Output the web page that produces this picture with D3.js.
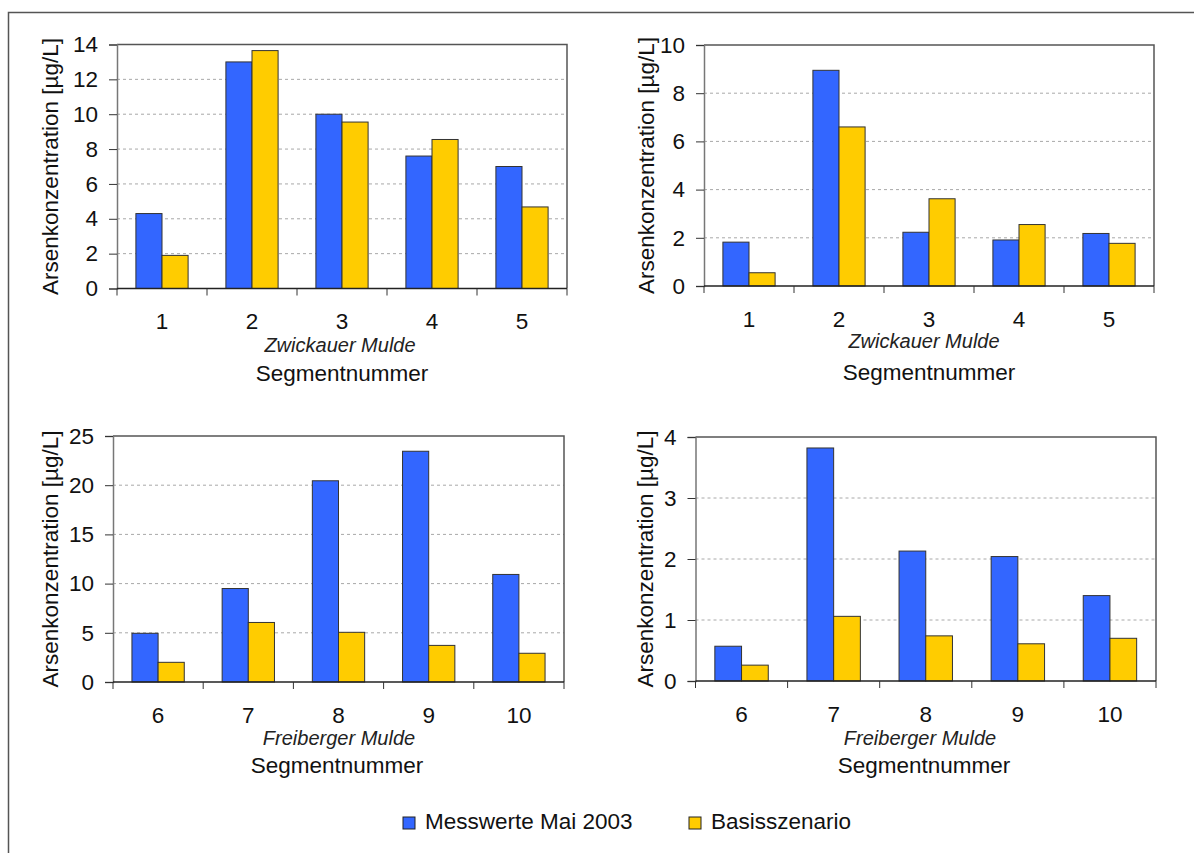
<!DOCTYPE html>
<html>
<head>
<meta charset="utf-8">
<script src="https://cdn.jsdelivr.net/npm/d3@7"></script>
<style>
  html, body { margin: 0; padding: 0; background: #fff; }
  svg { display: block; font-family: "Liberation Sans", Arial, sans-serif; }
</style>
</head>
<body>
<svg id="chart" width="1194" height="853"></svg>
<script>
// Segment labels per river
const segmentsZwickau = ["1", "2", "3", "4", "5"];
const segmentsFreiberg = ["6", "7", "8", "9", "10"];

// Series names
const seriesNames = ["Messwerte Mai 2003", "Basisszenario"];
const seriesColors = ["#3366ff", "#ffcc00"];

// Arsenic concentrations [µg/L]
const zwickauA_mess = [4.3, 13.0, 10.0, 7.6, 7.0];
const zwickauA_basis = [1.9, 13.65, 9.55, 8.55, 4.68];
const zwickauB_mess = [1.82, 8.95, 2.23, 1.91, 2.18];
const zwickauB_basis = [0.55, 6.6, 3.62, 2.55, 1.77];
const freibergA_mess = [4.95, 9.5, 20.45, 23.45, 10.93];
const freibergA_basis = [2.0, 6.05, 5.05, 3.72, 2.92];
const freibergB_mess = [0.57, 3.82, 2.13, 2.04, 1.40];
const freibergB_basis = [0.26, 1.06, 0.74, 0.61, 0.70];

// Y-axis ticks per panel
const ticksZwickauA = [0, 2, 4, 6, 8, 10, 12, 14];
const ticksZwickauB = [0, 2, 4, 6, 8, 10];
const ticksFreibergA = [0, 5, 10, 15, 20, 25];
const ticksFreibergB = [0, 1, 2, 3, 4];

const yTitle = "Arsenkonzentration [µg/L]";
const xTitle = "Segmentnummer";

const FS = 22.5;      // main text size
const FS_RIVER = 20;  // river name size

const svg = d3.select("#chart");

// outer frame
svg.append("rect")
  .attr("x", 8.5).attr("y", 12.5)
  .attr("width", 1200).attr("height", 900)
  .attr("fill", "none").attr("stroke", "#555").attr("stroke-width", 1.5);

const panels = [
  { cats: segmentsZwickau, mess: zwickauA_mess, basis: zwickauA_basis, ticks: ticksZwickauA,
    river: "Zwickauer Mulde", x0: 117, x1: 567, y0: 44.5, y1: 288.5,
    titleX: 50, riverX: 340, riverY: 352, labY: 329, segX: 342, segY: 381 },
  { cats: segmentsZwickau, mess: zwickauB_mess, basis: zwickauB_basis, ticks: ticksZwickauB,
    river: "Zwickauer Mulde", x0: 704, x1: 1154, y0: 45, y1: 286,
    titleX: 646, riverX: 924, riverY: 348, labY: 327, segX: 929, segY: 380 },
  { cats: segmentsFreiberg, mess: freibergA_mess, basis: freibergA_basis, ticks: ticksFreibergA,
    river: "Freiberger Mulde", x0: 113, x1: 564, y0: 436, y1: 682,
    titleX: 50, riverX: 339, riverY: 745, labY: 723, segX: 337, segY: 773 },
  { cats: segmentsFreiberg, mess: freibergB_mess, basis: freibergB_basis, ticks: ticksFreibergB,
    river: "Freiberger Mulde", x0: 695.5, x1: 1156, y0: 437, y1: 681,
    titleX: 645, riverX: 920, riverY: 745, labY: 722, segX: 924, segY: 773 }
];

panels.forEach(p => {
  const g = svg.append("g");
  const x = d3.scaleBand().domain(p.cats).range([p.x0, p.x1]).padding(0);
  const y = d3.scaleLinear().domain([0, d3.max(p.ticks)]).range([p.y1, p.y0]);
  const bw = x.bandwidth() * 0.29;

  // gridlines
  g.append("g").selectAll("line")
    .data(p.ticks.filter(t => t > 0 && t < d3.max(p.ticks)))
    .join("line")
    .attr("x1", p.x0).attr("x2", p.x1)
    .attr("y1", d => y(d)).attr("y2", d => y(d))
    .attr("stroke", "#a8a8a8").attr("stroke-width", 1)
    .attr("stroke-dasharray", "3,3");

  // plot frame (top and right)
  g.append("path")
    .attr("d", `M${p.x0},${p.y0}H${p.x1}V${p.y1}`)
    .attr("fill", "none").attr("stroke", "#555").attr("stroke-width", 1.5);

  // bars
  const rows = p.cats.map((c, i) => ({ c, vals: [p.mess[i], p.basis[i]] }));
  rows.forEach(r => {
    const cx = x(r.c) + x.bandwidth() / 2;
    g.selectAll(null)
      .data(r.vals)
      .join("rect")
      .attr("x", (d, j) => cx - bw + j * bw)
      .attr("y", d => y(d))
      .attr("width", bw)
      .attr("height", d => y(0) - y(d))
      .attr("fill", (d, j) => seriesColors[j])
      .attr("stroke", "#333").attr("stroke-width", 1);
  });

  // y axis
  const yAxis = g.append("g")
    .attr("transform", `translate(${p.x0},0)`)
    .call(d3.axisLeft(y).tickValues(p.ticks).tickSize(8).tickPadding(11).tickFormat(d3.format("d")));
  yAxis.select(".domain").attr("stroke", "#777").attr("stroke-width", 1.5);
  yAxis.selectAll(".tick line").attr("stroke", "#333");
  yAxis.selectAll(".tick text")
    .attr("font-size", FS).attr("fill", "#111")
    .attr("font-family", "'Liberation Sans', Arial, sans-serif");

  // x axis (ticks at band boundaries)
  const bounds = p.cats.map(c => x(c)).concat([p.x1]);
  g.append("line")
    .attr("x1", p.x0).attr("x2", p.x1)
    .attr("y1", p.y1).attr("y2", p.y1)
    .attr("stroke", "#222").attr("stroke-width", 1.5);
  g.append("g").selectAll("line")
    .data(bounds).join("line")
    .attr("x1", d => d).attr("x2", d => d)
    .attr("y1", p.y1).attr("y2", p.y1 + 7)
    .attr("stroke", "#333").attr("stroke-width", 1);
  g.append("g").selectAll("text")
    .data(p.cats).join("text")
    .attr("x", d => x(d) + x.bandwidth() / 2)
    .attr("y", p.labY)
    .attr("text-anchor", "middle")
    .attr("font-size", FS).attr("fill", "#111")
    .text(d => d);

  // river name and axis titles
  g.append("text")
    .attr("x", p.riverX).attr("y", p.riverY)
    .attr("text-anchor", "middle")
    .attr("font-size", FS_RIVER).attr("font-style", "italic").attr("fill", "#222")
    .text(p.river);
  g.append("text")
    .attr("x", p.segX).attr("y", p.segY)
    .attr("text-anchor", "middle")
    .attr("font-size", FS).attr("fill", "#111")
    .text(xTitle);
  g.append("text")
    .attr("transform", `translate(${p.titleX + 8},${(p.y0 + p.y1) / 2}) rotate(-90)`)
    .attr("text-anchor", "middle")
    .attr("font-size", FS).attr("fill", "#111")
    .text(yTitle);
});

// legend
const legendX = [403, 689];
const legend = svg.append("g");
seriesNames.forEach((name, i) => {
  legend.append("rect")
    .attr("x", legendX[i]).attr("y", 817)
    .attr("width", 12).attr("height", 12)
    .attr("fill", seriesColors[i]).attr("stroke", "#222").attr("stroke-width", 1);
  legend.append("text")
    .attr("x", legendX[i] + 22).attr("y", 829)
    .attr("font-size", FS).attr("fill", "#111")
    .text(name);
});
</script>
</body>
</html>
